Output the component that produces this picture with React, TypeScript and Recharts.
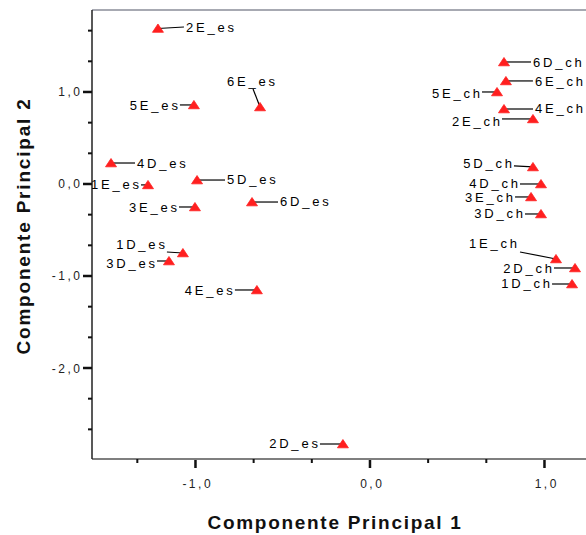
import React from 'react';
import { ScatterChart, Scatter, XAxis, YAxis, Label, ReferenceLine } from 'recharts';

// Component scores for each sample
const sampleNames = [
  '1D_es', '2D_es', '3D_es', '4D_es', '5D_es', '6D_es',
  '1E_es', '2E_es', '3E_es', '4E_es', '5E_es', '6E_es',
  '1D_ch', '2D_ch', '3D_ch', '4D_ch', '5D_ch', '6D_ch',
  '1E_ch', '2E_ch', '3E_ch', '4E_ch', '5E_ch', '6E_ch',
];
const component1 = [
  -1.072, -0.155, -1.152, -1.484, -0.991, -0.676,
  -1.272, -1.215, -1.003, -0.648, -1.009, -0.63,
  1.158, 1.175, 0.98, 0.98, 0.934, 0.768,
  1.066, 0.934, 0.923, 0.768, 0.728, 0.779,
];
const component2 = [
  -0.75, -2.826, -0.837, 0.228, 0.043, -0.196,
  -0.01, 1.69, -0.25, -1.152, 0.859, 0.837,
  -1.087, -0.913, -0.326, 0.0, 0.185, 1.326,
  -0.815, 0.707, -0.141, 0.815, 1.0, 1.12,
];

// Axis ticks: whole units get a label, thirds get a small mark
const xTicks = [-1.3333, -1, -0.6667, -0.3333, 0, 0.3333, 0.6667, 1];
const yTicks = [1.6667, 1.3333, 1, 0.6667, 0.3333, 0, -0.3333, -0.6667, -1, -1.3333, -1.6667, -2, -2.3333, -2.6667];

const X_DOMAIN: [number, number] = [-1.593, 1.301];
const Y_DOMAIN: [number, number] = [-2.989, 1.891];

// Label placement around each marker (pixel offsets)
type LabelPlacement = { dx: number; dy: number; anchor: 'start' | 'end' | 'middle'; lx: number; ly: number };
const labelPlacement: Record<string, LabelPlacement> = {
  '1D_es': { dx: -18, dy: -9, anchor: 'end', lx: -16, ly: -1 },
  '2D_es': { dx: -25, dy: -1, anchor: 'end', lx: -23, ly: 0 },
  '3D_es': { dx: -14, dy: 2, anchor: 'end', lx: -12, ly: 0 },
  '4D_es': { dx: 26, dy: 0, anchor: 'start', lx: 24, ly: 0 },
  '5D_es': { dx: 30, dy: -1, anchor: 'start', lx: 28, ly: 0 },
  '6D_es': { dx: 28, dy: -1, anchor: 'start', lx: 26, ly: 0 },
  '1E_es': { dx: -9, dy: -1, anchor: 'end', lx: -7, ly: 0 },
  '2E_es': { dx: 28, dy: -1.5, anchor: 'start', lx: 26, ly: -1.5 },
  '3E_es': { dx: -18, dy: 0, anchor: 'end', lx: -16, ly: 0 },
  '4E_es': { dx: -24, dy: 0, anchor: 'end', lx: -22, ly: 0 },
  '5E_es': { dx: -16, dy: 0, anchor: 'end', lx: -14, ly: 0 },
  '6E_es': { dx: -9, dy: -26, anchor: 'middle', lx: -7, ly: -18 },
  '1D_ch': { dx: -22, dy: -1, anchor: 'end', lx: -20, ly: 0 },
  '2D_ch': { dx: -23, dy: 0, anchor: 'end', lx: -21, ly: 0 },
  '3D_ch': { dx: -18, dy: -1, anchor: 'end', lx: -16, ly: 0 },
  '4D_ch': { dx: -23, dy: -1, anchor: 'end', lx: -21, ly: 0 },
  '5D_ch': { dx: -21, dy: -4, anchor: 'end', lx: -19, ly: -1 },
  '6D_ch': { dx: 29, dy: 0, anchor: 'start', lx: 27, ly: 0 },
  '1E_ch': { dx: -39, dy: -16, anchor: 'end', lx: -36, ly: -7 },
  '2E_ch': { dx: -33, dy: 2, anchor: 'end', lx: -31, ly: 0 },
  '3E_ch': { dx: -18, dy: 0, anchor: 'end', lx: -16, ly: 0 },
  '4E_ch': { dx: 31, dy: -1, anchor: 'start', lx: 29, ly: 0 },
  '5E_ch': { dx: -17, dy: 1, anchor: 'end', lx: -15, ly: 0 },
  '6E_ch': { dx: 29, dy: 0, anchor: 'start', lx: 27, ly: 0 },
};

const points = sampleNames.map((name, i) => ({ name, pc1: component1[i], pc2: component2[i] }));

const FONT = "'Liberation Sans', Arial, Helvetica, sans-serif";
const LABEL_LS = 2.8;
const TICK_LS = 2.5;
const MARKER = '#ff1f1f';

const isMajor = (v: number) => Math.abs(v - Math.round(v)) < 1e-6;
const fmt = (v: number) => Math.round(v).toFixed(1).replace('.', ',');

const XTick = (props: any) => {
  const { x, y, payload } = props;
  const v = payload.value;
  if (isMajor(v)) {
    return (
      <g>
        <rect x={x - 1.25} y={y + 1} width={2.5} height={8} fill="#111" />
        <text x={x + TICK_LS / 2 + 1} y={y + 29} textAnchor="middle" fontFamily={FONT} fontSize={12}
          letterSpacing={TICK_LS} fill="#222">{fmt(v)}</text>
      </g>
    );
  }
  return <rect x={x - 1} y={y} width={2} height={4} fill="#111" />;
};

const YTick = (props: any) => {
  const { x, y, payload } = props;
  const v = payload.value;
  if (isMajor(v)) {
    return (
      <g>
        <rect x={x - 9} y={y - 1.25} width={9} height={2.5} fill="#111" />
        <text x={x - 12 + TICK_LS} y={y + 4.5} textAnchor="end" fontFamily={FONT} fontSize={12}
          letterSpacing={TICK_LS} fill="#222">{fmt(v)}</text>
      </g>
    );
  }
  return <rect x={x - 4} y={y - 1} width={4} height={2} fill="#111" />;
};

const MarkerWithLabel = (props: any) => {
  const { cx, cy, payload } = props;
  if (cx == null || cy == null) return null;
  const p = labelPlacement[payload.name];
  let tx = cx + p.dx;
  if (p.anchor === 'end') tx += LABEL_LS;
  if (p.anchor === 'middle') tx += LABEL_LS / 2;
  return (
    <g>
      <line x1={cx + p.lx} y1={cy + p.ly} x2={cx} y2={cy} stroke="#000" strokeWidth={1.2} />
      <polygon
        points={`${cx},${cy - 4.5} ${cx - 5.5},${cy + 3.8} ${cx + 5.5},${cy + 3.8}`}
        fill={MARKER}
        stroke={MARKER}
        strokeWidth={0.8}
      />
      <text x={tx} y={cy + p.dy + 4.7} textAnchor={p.anchor} fontFamily={FONT} fontSize={13}
        letterSpacing={LABEL_LS} fill="#000">{payload.name}</text>
    </g>
  );
};

export default function App() {
  return (
    <div style={{ position: 'absolute', left: 0, top: 0, width: 586, height: 535, overflow: 'hidden', background: '#fff' }}>
      <ScatterChart width={620} height={535} margin={{ top: 10, right: 23, bottom: 0, left: 0 }}>
        <XAxis
          type="number"
          dataKey="pc1"
          domain={X_DOMAIN}
          allowDataOverflow
          ticks={xTicks}
          interval={0}
          tickSize={0}
          tickMargin={0}
          tickLine={false}
          tick={<XTick />}
          height={76}
          axisLine={{ stroke: '#555', strokeWidth: 1.3 }}
        >
          <Label
            content={(lp: any) => {
              const vb = lp.viewBox;
              return (
                <text x={335} y={vb.y + 70} textAnchor="middle" fontFamily={FONT} fontWeight="bold"
                  fontSize={19} letterSpacing={1.7} fill="#111">Componente Principal 1</text>
              );
            }}
          />
        </XAxis>
        <YAxis
          type="number"
          dataKey="pc2"
          domain={Y_DOMAIN}
          allowDataOverflow
          ticks={yTicks}
          interval={0}
          tickSize={0}
          tickMargin={0}
          tickLine={false}
          tick={<YTick />}
          width={92}
          axisLine={{ stroke: '#222', strokeWidth: 1.5 }}
        >
          <Label
            content={() => (
              <text x={30} y={226} transform="rotate(-90 30 226)" textAnchor="middle" fontFamily={FONT}
                fontWeight="bold" fontSize={19} letterSpacing={1.8} fill="#111">Componente Principal 2</text>
            )}
          />
        </YAxis>
        <ReferenceLine y={Y_DOMAIN[1]} stroke="#8a8c99" strokeWidth={1.5} />
        <Scatter data={points} isAnimationActive={false} shape={<MarkerWithLabel />} />
      </ScatterChart>
    </div>
  );
}
